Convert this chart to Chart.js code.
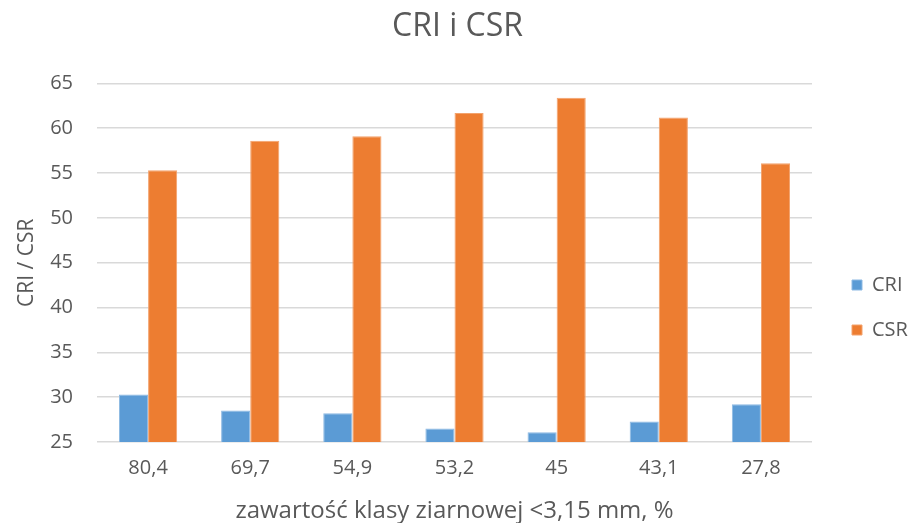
<!DOCTYPE html>
<html>
<head>
<meta charset="utf-8">
<script src="https://cdn.jsdelivr.net/npm/chart.js@4/dist/chart.umd.min.js"></script>
<style>
  html, body { margin: 0; padding: 0; background: #ffffff; }
  #wrap { width: 911px; height: 523px; }
</style>
</head>
<body>
<div id="wrap"><canvas id="c" width="911" height="523"></canvas></div>
<script>
// Grain-size fraction <3,15 mm content (%) on the x axis
const categories = ['80,4', '69,7', '54,9', '53,2', '45', '43,1', '27,8'];
// Coke reactivity index and strength after reaction
const cri = [30.3, 28.5, 28.2, 26.5, 26.1, 27.3, 29.2];
const csr = [55.3, 58.6, 59.1, 61.7, 63.4, 61.2, 56.1];
const yTicks = [25, 30, 35, 40, 45, 50, 55, 60, 65];

const FONT = "'Open Sans', sans-serif";
const GREY = '#595959';

new Chart(document.getElementById('c'), {
  type: 'bar',
  data: {
    labels: categories,
    datasets: [
      { label: 'CRI', data: cri, backgroundColor: '#5B9BD5', borderColor: '#8DB9E3', borderWidth: 1,
        barPercentage: 1.0, categoryPercentage: 0.57 },
      { label: 'CSR', data: csr, backgroundColor: '#ED7D31', borderColor: '#F3A26C', borderWidth: 1,
        barPercentage: 1.0, categoryPercentage: 0.57 }
    ]
  },
  options: {
    responsive: false,
    animation: false,
    layout: { padding: { left: 4, right: 0, top: 0, bottom: 0 } },
    plugins: {
      title: {
        display: true, text: 'CRI i CSR', color: GREY,
        font: { family: FONT, size: 32, weight: 'normal', lineHeight: 1.2 },
        padding: { top: 8, bottom: 37 }
      },
      legend: {
        position: 'right',
        maxWidth: 84,
        // blank heading only used to push the two entries down to mid-height
        title: { display: true, text: ' ', font: { size: 10 }, padding: { top: 40, bottom: 40 } },
        labels: {
          color: GREY, boxWidth: 10, boxHeight: 10, padding: 25,
          font: { family: FONT, size: 20 }
        }
      },
      tooltip: { enabled: false }
    },
    scales: {
      x: {
        grid: { display: false, drawTicks: false },
        border: { display: false },
        ticks: { color: GREY, font: { family: FONT, size: 20 }, padding: 14 },
        title: { display: true, text: 'zawartość klasy ziarnowej <3,15 mm, %', color: GREY,
                 font: { family: FONT, size: 24, lineHeight: 1 }, padding: { top: 5, bottom: 0 } }
      },
      y: {
        min: 25, max: 65,
        afterBuildTicks: (axis) => { axis.ticks = yTicks.map(v => ({ value: v })); },
        afterFit: (axis) => { axis.width = 93; },
        grid: { color: '#D9D9D9', lineWidth: 1.5, drawTicks: false },
        border: { display: false },
        ticks: { color: GREY, font: { family: FONT, size: 20 }, padding: 24 },
        title: { display: true, text: 'CRI / CSR', color: GREY,
                 font: { family: FONT, size: 21 }, padding: { top: 10, bottom: 10 } }
      },
      // empty right-hand margin between the plot and the legend
      gap: {
        type: 'linear', position: 'right', display: true,
        grid: { display: false }, border: { display: false }, ticks: { display: false },
        afterFit: (axis) => { axis.width = 15; }
      }
    }
  }
});
</script>
</body>
</html>
